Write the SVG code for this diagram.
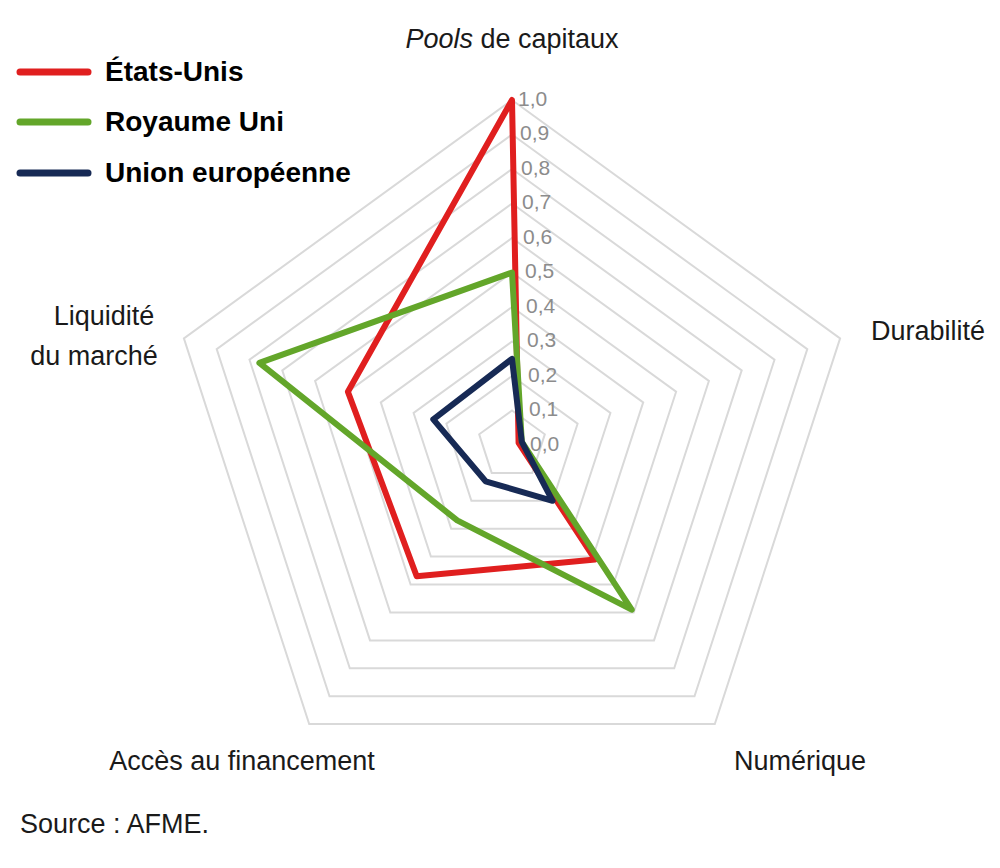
<svg xmlns="http://www.w3.org/2000/svg" width="1000" height="868" viewBox="0 0 1000 868">
<style>
.g{fill:none;stroke:#d9d9d9;stroke-width:2}
.s{fill:none;stroke-width:6;stroke-linejoin:round}
.t{font-family:"Liberation Sans",Arial,sans-serif;fill:#1a1a1a;font-size:27px}
.k{font-family:"Liberation Sans",Arial,sans-serif;fill:#8c8c8c;font-size:21px}
.l{font-family:"Liberation Sans",Arial,sans-serif;fill:#000;font-size:28px;font-weight:bold}
</style>
<rect width="1000" height="868" fill="#fff"/>
<g id="grid">
<polygon class="g" points="512,410.5 544.8,434.3 532.3,472.9 491.7,472.9 479.2,434.3"/>
<polygon class="g" points="512,376 577.6,423.7 552.6,500.8 471.4,500.8 446.4,423.7"/>
<polygon class="g" points="512,341.5 610.4,413 572.8,528.7 451.2,528.7 413.6,413"/>
<polygon class="g" points="512,307 643.2,402.4 593.1,556.6 430.9,556.6 380.8,402.4"/>
<polygon class="g" points="512,272.5 676.1,391.7 613.4,584.6 410.6,584.6 347.9,391.7"/>
<polygon class="g" points="512,238 708.9,381 633.7,612.5 390.3,612.5 315.1,381"/>
<polygon class="g" points="512,203.5 741.7,370.4 654,640.4 370,640.4 282.3,370.4"/>
<polygon class="g" points="512,169 774.5,359.7 674.2,668.3 349.8,668.3 249.5,359.7"/>
<polygon class="g" points="512,134.5 807.3,349.1 694.5,696.2 329.5,696.2 216.7,349.1"/>
<polygon class="g" points="512,100 840.1,338.4 714.8,724.1 309.2,724.1 183.9,338.4"/>
</g>
<g id="ticks" class="k">
<text x="518" y="106">1,0</text><text x="520" y="140">0,9</text><text x="521" y="175">0,8</text><text x="522" y="209">0,7</text><text x="523" y="244">0,6</text><text x="525" y="278">0,5</text><text x="526" y="313">0,4</text><text x="527" y="347">0,3</text><text x="528" y="382">0,2</text><text x="529" y="416">0,1</text><text x="530" y="451">0,0</text>
</g>
<g id="connectors">
<polygon id="us" class="s" stroke="#e01f1f" points="512,100 518.6,442.9 595.2,559.5 416.7,576.2 347.9,391.7"/>
<polygon id="uk" class="s" stroke="#63a62a" points="512,272.5 521.8,441.8 631.7,609.7 457.2,520.4 259.4,362.9"/>
<polygon id="eu" class="s" stroke="#172a55" points="512,358.8 521.8,441.8 552.6,500.8 485.6,481.3 433.3,419.4"/>
</g>
<g id="axes" class="t">
<text x="512" y="48" text-anchor="middle"><tspan font-style="italic">Pools</tspan> de capitaux</text>
<text x="985" y="340" text-anchor="end">Durabilité</text>
<text x="800" y="770" text-anchor="middle">Numérique</text>
<text x="242" y="770" text-anchor="middle">Accès au financement</text>
<text x="104" y="325" text-anchor="middle">Liquidité</text>
<text x="94" y="365" text-anchor="middle">du marché</text>
</g>
<g id="legend">
<line x1="20" y1="72" x2="88" y2="72" stroke="#e01f1f" stroke-width="7" stroke-linecap="round"/>
<text class="l" x="105" y="81">États-Unis</text>
<line x1="20" y1="122" x2="88" y2="122" stroke="#63a62a" stroke-width="7" stroke-linecap="round"/>
<text class="l" x="105" y="131">Royaume Uni</text>
<line x1="20" y1="173" x2="88" y2="173" stroke="#172a55" stroke-width="7" stroke-linecap="round"/>
<text class="l" x="105" y="182">Union européenne</text>
</g>
<text class="t" x="20" y="833" font-size="22">Source : AFME.</text>
</svg>
